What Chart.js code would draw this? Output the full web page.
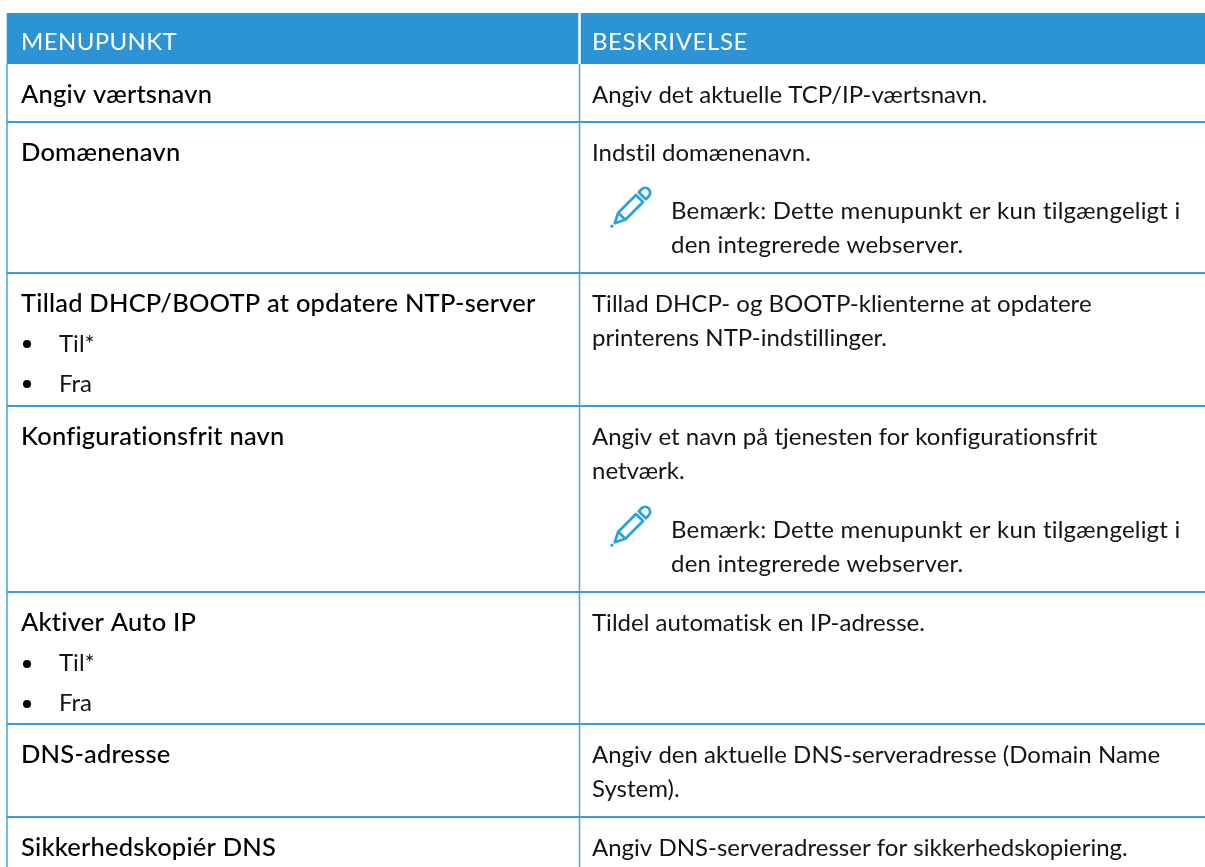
<!DOCTYPE html>
<html>
<head>
<meta charset="utf-8">
<style>
  html, body { margin: 0; background: #ffffff; }
  canvas { display: block; }
</style>
<script src="https://cdn.jsdelivr.net/npm/chart.js@4"></script>
</head>
<body>
<canvas id="menuTable" width="1205" height="867"></canvas>
<script>
var columnEdges = [7, 579, 1205];
var headerEdges = [13, 64];
var rowEdges = [122, 273, 406, 592, 724, 817];

var headerLabels = ["MENUPUNKT", "BESKRIVELSE"];
var headerBaseline = 50;

var menuLabels = ["Angiv værtsnavn", "Domænenavn", "Tillad DHCP/BOOTP at opdatere NTP-server", "Konfigurationsfrit navn", "Aktiver Auto IP", "DNS-adresse", "Sikkerhedskopiér DNS"];
var menuBaselines = [103, 161, 312, 445, 631, 763, 856];

var optionLabels = ["Til*", "Fra", "Til*", "Fra"];
var optionBaselines = [352, 392, 671, 711];
var bulletRows = [344, 384, 664, 704];

var descriptionLines = [
  "Angiv det aktuelle TCP/IP-værtsnavn.",
  "Indstil domænenavn.",
  "Tillad DHCP- og BOOTP-klienterne at opdatere",
  "printerens NTP-indstillinger.",
  "Angiv et navn på tjenesten for konfigurationsfrit",
  "netværk.",
  "Tildel automatisk en IP-adresse.",
  "Angiv den aktuelle DNS-serveradresse (Domain Name",
  "System).",
  "Angiv DNS-serveradresser for sikkerhedskopiering."
];
var descriptionBaselines = [103, 161, 312, 346, 445, 479, 631, 763, 797, 856];

var noteLines = ["Bemærk: Dette menupunkt er kun tilgængeligt i", "den integrerede webserver.", "Bemærk: Dette menupunkt er kun tilgængeligt i", "den integrerede webserver."];
var noteBaselines = [219, 253, 538, 572];
var noteIconRows = [207, 526];

var blue = "#2b93d6";
var ruleBlue = "#3a9bdb";
var sideBlue = "#4fa9e4";
var inkColor = "#141414";

function pencilIcon() {
  var c = document.createElement("canvas");
  c.width = 44;
  c.height = 44;
  var g = c.getContext("2d");
  g.translate(22, 22);
  g.rotate(Math.PI / 4);
  g.strokeStyle = "#29a3dd";
  g.fillStyle = "#29a3dd";
  g.lineWidth = 2.8;
  g.lineJoin = "round";
  // body
  g.beginPath();
  g.moveTo(-5, -12);
  g.lineTo(5, -12);
  g.lineTo(5, 13);
  g.lineTo(0, 23);
  g.lineTo(-5, 13);
  g.closePath();
  g.stroke();
  g.beginPath();
  g.moveTo(-5, 13);
  g.lineTo(5, 13);
  g.stroke();
  // eraser end
  g.beginPath();
  g.moveTo(-5, -16);
  g.arc(0, -20, 5, Math.PI, 0);
  g.lineTo(5, -16);
  g.closePath();
  g.stroke();
  // tip
  g.beginPath();
  g.arc(0, 27, 1.6, 0, Math.PI * 2);
  g.fill();
  return c;
}

function ruleDataset(y, from, to, color) {
  return {
    data: [{ x: from, y: y }, { x: to, y: y }],
    borderColor: color,
    borderWidth: 1.8,
    pointRadius: 0
  };
}

function sideDataset(x, from, to) {
  return {
    data: [{ x: x, y: from }, { x: x, y: to }],
    borderColor: sideBlue,
    borderWidth: 1.6,
    pointRadius: 0
  };
}

function headerDataset(from, to) {
  return {
    data: [{ x: from, y: headerEdges[1] }, { x: to, y: headerEdges[1] }],
    borderWidth: 0,
    pointRadius: 0,
    backgroundColor: blue,
    fill: { target: { value: headerEdges[0] } }
  };
}

var datasets = [
  headerDataset(columnEdges[0] - 0.5, columnEdges[1] - 0.5),
  headerDataset(columnEdges[1] + 1.5, columnEdges[2])
];
rowEdges.forEach(function (y) {
  datasets.push(ruleDataset(y, columnEdges[0], columnEdges[2], ruleBlue));
});
datasets.push(sideDataset(columnEdges[0], headerEdges[1], 867));
datasets.push(sideDataset(columnEdges[1] + 0.5, headerEdges[1], 867));
datasets.push({
  type: "scatter",
  data: bulletRows.map(function (y) { return { x: 27, y: y }; }),
  pointRadius: 4,
  pointBackgroundColor: "#000000",
  pointBorderWidth: 0
});
datasets.push({
  type: "scatter",
  data: noteIconRows.map(function (y) { return { x: 631, y: y }; }),
  pointStyle: pencilIcon(),
  pointRadius: 20
});

function putLines(ctx, chart, lines, baselines, x, font, color, spacing) {
  var sx = chart.scales.x, sy = chart.scales.y;
  ctx.font = font;
  ctx.fillStyle = color;
  ctx.textBaseline = "alphabetic";
  ctx.letterSpacing = spacing;
  lines.forEach(function (t, i) {
    ctx.fillText(t, sx.getPixelForValue(x), sy.getPixelForValue(baselines[i]));
  });
}

var tableText = {
  id: "tableText",
  afterDatasetsDraw: function (chart) {
    var ctx = chart.ctx;
    ctx.save();
    var regular = '400 24px Lato';
    var medium = '500 25.5px Lato';
    putLines(ctx, chart, [headerLabels[0]], [headerBaseline], 21, regular, "#ffffff", "0.4px");
    putLines(ctx, chart, [headerLabels[1]], [headerBaseline], 592, regular, "#ffffff", "0.6px");
    putLines(ctx, chart, menuLabels, menuBaselines, 21, medium, "#000000", "0.2px");
    putLines(ctx, chart, optionLabels, optionBaselines, 59, regular, inkColor, "0.01px");
    putLines(ctx, chart, descriptionLines, descriptionBaselines, 592, regular, inkColor, "0.01px");
    putLines(ctx, chart, noteLines, noteBaselines, 671, regular, inkColor, "0.2px");
    ctx.restore();
  }
};

new Chart(document.getElementById("menuTable").getContext("2d"), {
  type: "line",
  data: { datasets: datasets },
  plugins: [tableText],
  options: {
    responsive: false,
    animation: false,
    parsing: false,
    layout: { padding: 0, autoPadding: false },
    plugins: { legend: { display: false }, title: { display: false }, tooltip: { enabled: false } },
    scales: {
      x: { type: "linear", min: 0, max: 1205, display: false },
      y: { type: "linear", min: 0, max: 867, reverse: true, display: false }
    }
  }
});
</script>
</body>
</html>
